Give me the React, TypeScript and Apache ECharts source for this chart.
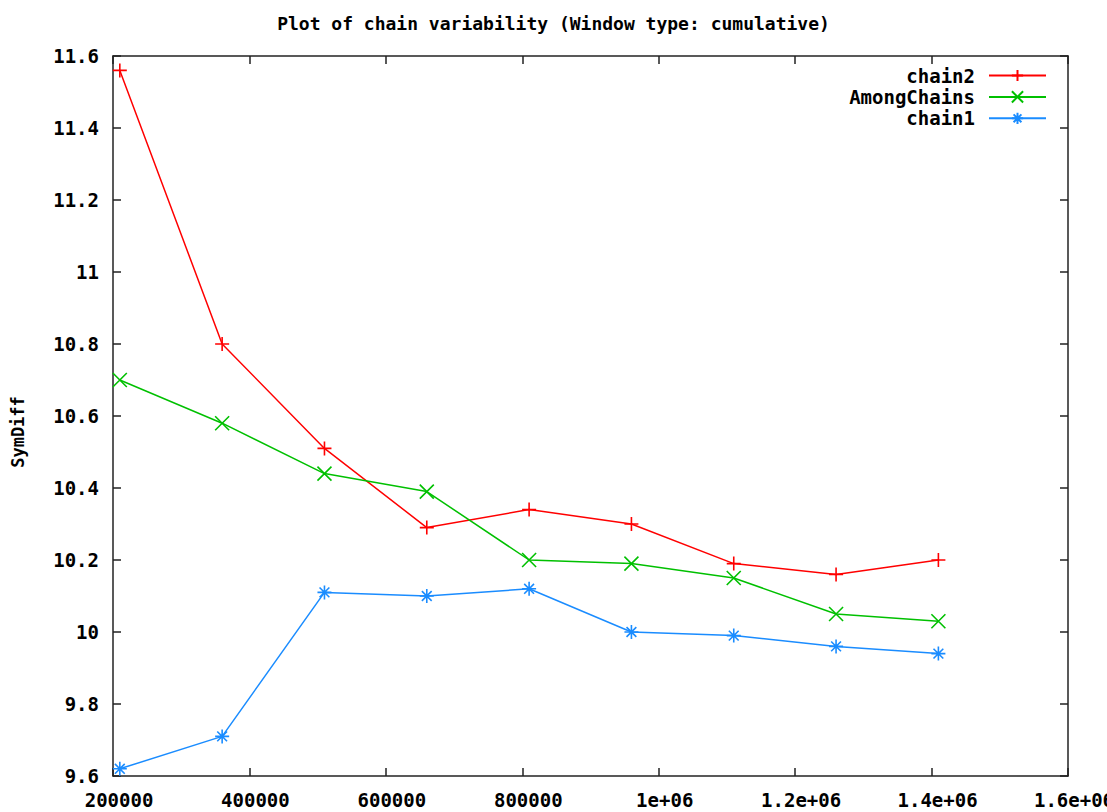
import React, { useEffect, useRef } from "react";
import * as echarts from "echarts";

const xValues = [210000, 360000, 510000, 660000, 810000, 960000, 1110000, 1260000, 1410000];
const chain2 = [11.56, 10.8, 10.51, 10.29, 10.34, 10.3, 10.19, 10.16, 10.2];
const amongChains = [10.7, 10.58, 10.44, 10.39, 10.2, 10.19, 10.15, 10.05, 10.03];
const chain1 = [9.62, 9.71, 10.11, 10.1, 10.12, 10.0, 9.99, 9.96, 9.94];
const xTickLabels: Record<number, string> = {
  200000: "200000",
  400000: "400000",
  600000: "600000",
  800000: "800000",
  1000000: "1e+06",
  1200000: "1.2e+06",
  1400000: "1.4e+06",
  1600000: "1.6e+06",
};

const FONT = "'DejaVu Sans Mono', 'Liberation Mono', monospace";
const AXIS_COLOR = "#222";

const SYM_PLUS = "path://M0,5L10,5M5,0L5,10";
const SYM_X = "path://M0,0L10,10M10,0L0,10";
const SYM_STAR = "path://M0,5L10,5M5,0L5,10M1.5,1.5L8.5,8.5M8.5,1.5L1.5,8.5";

function pairs(ys: number[]) {
  return xValues.map((x, i) => [x, ys[i]]);
}

function mkSeries(name: string, ys: number[], color: string, symbol: string) {
  return {
    name,
    type: "line",
    data: pairs(ys),
    symbol,
    symbolSize: 14,
    showAllSymbol: true,
    lineStyle: { color, width: 1.5 },
    itemStyle: { color, borderColor: color, borderWidth: 1.6 },
    xAxisIndex: 0,
    yAxisIndex: 0,
  };
}

export default function App() {
  const ref = useRef<HTMLDivElement>(null);
  useEffect(() => {
    document.body.style.margin = "0";
    if (!ref.current) return;
    const chart = echarts.init(ref.current, undefined, { renderer: "svg" });
    const axisCommon = {
      axisLine: { show: true, lineStyle: { color: AXIS_COLOR, width: 1.5 } },
      axisTick: { show: true, inside: true, length: 8, lineStyle: { color: AXIS_COLOR, width: 1.5 } },
      splitLine: { show: false },
    };
    chart.setOption({
      animation: false,
      backgroundColor: "#fff",
      grid: {
        left: 113,
        top: 56,
        right: 39,
        bottom: 36,
        containLabel: false,
        outerBoundsMode: "none",
      },
      title: {
        text: "Plot of chain variability (Window type: cumulative)",
        left: "center",
        top: 9,
        textStyle: { fontFamily: FONT, fontWeight: "bold", fontSize: 18, color: "#000" },
      },
      legend: {
        orient: "vertical",
        right: 55,
        top: 61,
        align: "right",
        itemWidth: 57,
        itemHeight: 14,
        itemGap: 2.4,
        textStyle: {
          fontFamily: FONT,
          fontWeight: "bold",
          fontSize: 19,
          color: "#000",
          padding: [0, 9, 0, 0],
        },
        data: ["chain2", "AmongChains", "chain1"],
      },
      xAxis: [
        {
          type: "value",
          min: 200000,
          max: 1600000,
          interval: 200000,
          position: "bottom",
          ...axisCommon,
          axisLabel: {
            margin: 14,
            padding: [0, 0, 0, 12],
            fontFamily: FONT,
            fontWeight: "bold",
            fontSize: 19,
            color: "#000",
            formatter: (v: number) => xTickLabels[Math.round(v)] ?? String(v),
          },
        },
        {
          type: "value",
          min: 200000,
          max: 1600000,
          interval: 200000,
          position: "top",
          ...axisCommon,
          axisLabel: { show: false },
        },
      ],
      yAxis: [
        {
          type: "value",
          min: 9.6,
          max: 11.6,
          interval: 0.2,
          position: "left",
          ...axisCommon,
          axisLabel: {
            margin: 14,
            fontFamily: FONT,
            fontWeight: "bold",
            fontSize: 19,
            color: "#000",
            formatter: (v: number) => String(Number(v.toFixed(1))),
          },
        },
        {
          type: "value",
          min: 9.6,
          max: 11.6,
          interval: 0.2,
          position: "right",
          ...axisCommon,
          axisLabel: { show: false },
        },
      ],
      graphic: [
        {
          type: "text",
          x: 18,
          y: 432,
          rotation: Math.PI / 2,
          style: {
            text: "SymDiff",
            fontFamily: FONT,
            fontWeight: "bold",
            fontSize: 17,
            fill: "#000",
            align: "center",
            verticalAlign: "middle",
          },
        },
      ],
      series: [
        mkSeries("chain2", chain2, "#ff0000", SYM_PLUS),
        mkSeries("AmongChains", amongChains, "#00c000", SYM_X),
        mkSeries("chain1", chain1, "#1a8cff", SYM_STAR),
      ],
    });
    return () => chart.dispose();
  }, []);
  return <div ref={ref} style={{ width: 1107, height: 812 }} />;
}
